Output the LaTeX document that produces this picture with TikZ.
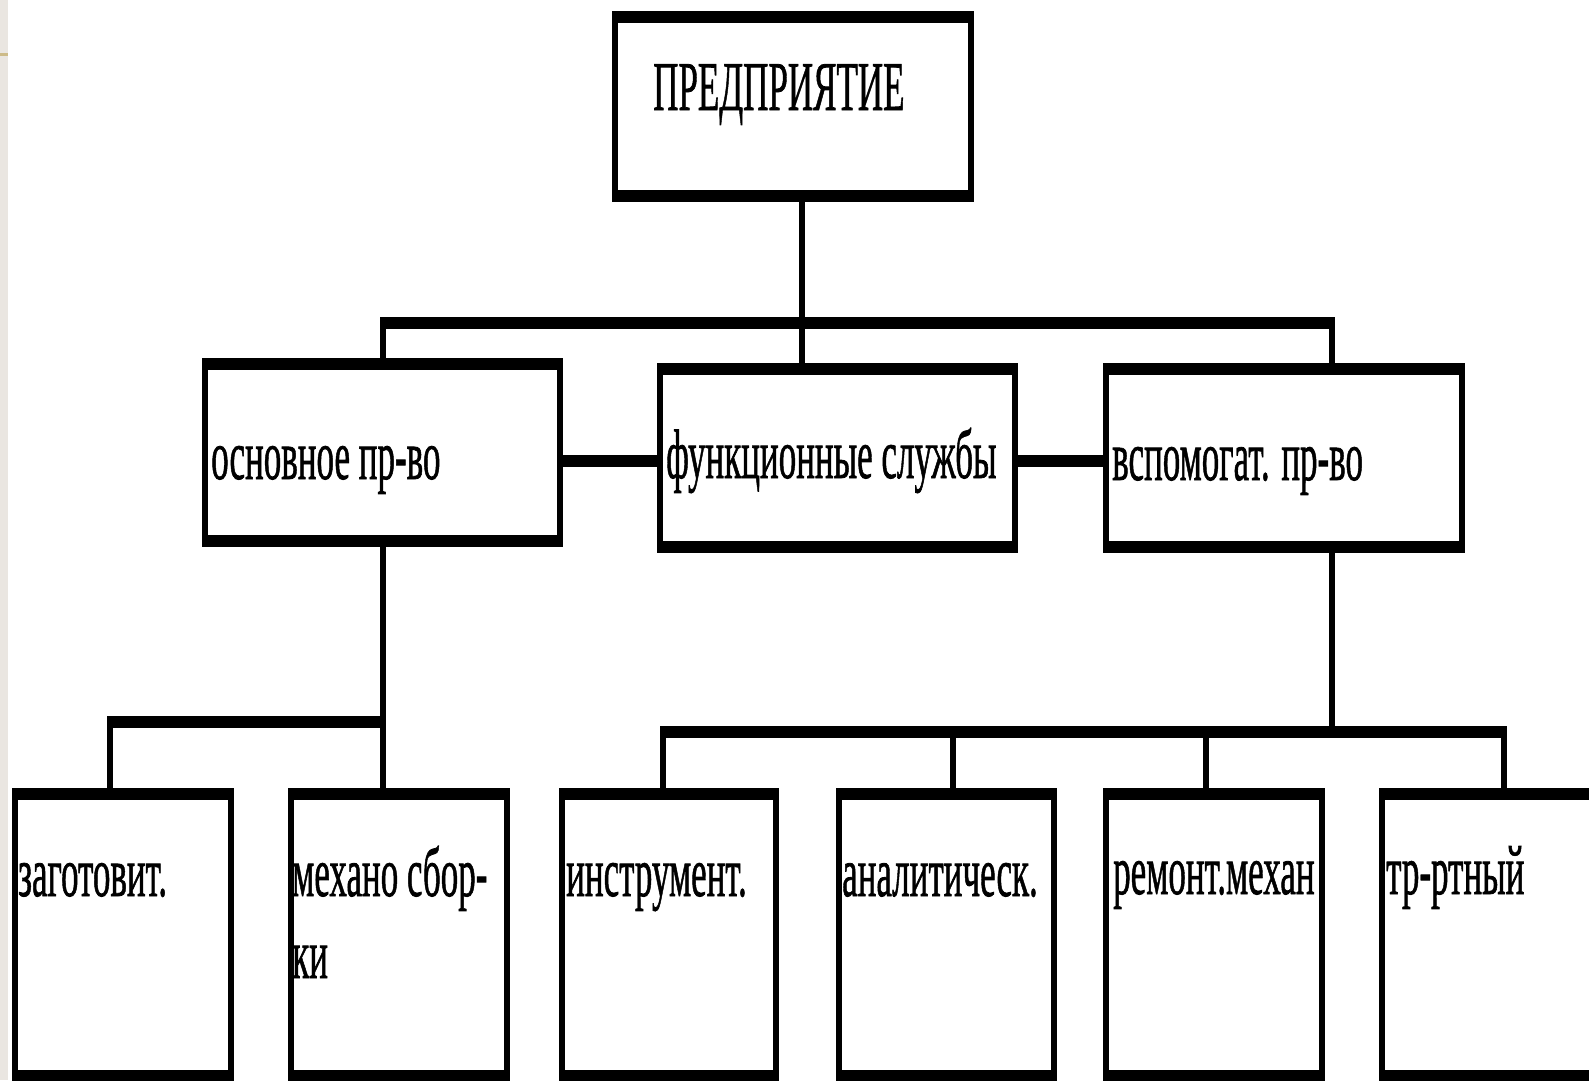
\documentclass[tikz,border=0pt]{standalone}
\usepackage{fontspec}
\setmainfont{Liberation Serif}
\newfontfamily\chartfont[BoldFont={Liberation Serif}, BoldFeatures={FakeBold=1.2}]{Liberation Serif}
\definecolor{stripbg}{HTML}{EAE6E1}
\definecolor{stripmark}{HTML}{CDBB88}
\begin{document}
\begin{tikzpicture}[x=1pt,y=-1pt]
  \useasboundingbox (0,0) rectangle (1589,1080);
  \clip (0,0) rectangle (1589,1080);
  \fill[white] (0,0) rectangle (1589,1080);
  % side strip of the slide
  \fill[stripbg] (0,0) rectangle (8,1080);
  \fill[stripmark] (0,52.5) rectangle (8,55.5);

  % the chart itself is set on a canvas stretched twice in height
  \begin{scope}[transform canvas={yscale=2}, x=1pt, y=-0.5pt,
      unit/.style={draw, line width=6pt, fill=white, inner sep=0pt, outer sep=0pt},
      link/.style={line width=6pt, line join=miter},
      lbl/.style={anchor=base west, inner sep=0pt,
        font=\chartfont\bfseries\fontsize{35}{41}\selectfont}]

    % boxes
    \node[unit, minimum width=356pt, minimum height=89.5pt] (top) at (793,106.5) {};
    \node[unit, minimum width=355pt, minimum height=88.5pt] (osn) at (382.5,452.5) {};
    \node[unit, minimum width=355pt, minimum height=89pt] (fun) at (837.5,458) {};
    \node[unit, minimum width=356pt, minimum height=89pt] (vsp) at (1284,458) {};
    \node[unit, minimum width=215.5pt, minimum height=141pt] (b1) at (122.75,935) {};
    \node[unit, minimum width=216pt, minimum height=141pt] (b2) at (398.5,935) {};
    \node[unit, minimum width=214pt, minimum height=141pt] (b3) at (669,935) {};
    \node[unit, minimum width=214.5pt, minimum height=141pt] (b4) at (946.25,935) {};
    \node[unit, minimum width=216pt, minimum height=141pt] (b5) at (1214,935) {};
    \node[unit, minimum width=268pt, minimum height=141pt] (b6) at (1516,935) {};

    % junction points
    \coordinate (j0) at (802,323);
    \coordinate (jr) at (1332,323);
    \coordinate (lk) at (0,461);
    \coordinate (bl) at (110,722);
    \coordinate (br) at (1332,732);
    \coordinate (d3) at (663,732);
    \coordinate (d4) at (953,732);
    \coordinate (d5) at (1206,732);
    \coordinate (d6) at (1504,732);

    % upper level
    \draw[link] (top.south -| j0) -- (fun.north -| j0);
    \draw[link] (osn.north) |- (jr) -- (vsp.north -| jr);
    \draw[link] (osn.east |- lk) -- (fun.west |- lk);
    \draw[link] (fun.east |- lk) -- (vsp.west |- lk);

    % main production branch
    \draw[link] (osn.south) -- (osn.south |- b2.north);
    \draw[link] (b1.north -| bl) |- (osn.south |- bl);

    % auxiliary production branch
    \draw[link] (vsp.south -| br) -- (br);
    \draw[link] (b3.north -| d3) |- (d6) -- (b6.north -| d6);
    \draw[link] (d4) -- (b4.north -| d4);
    \draw[link] (d5) -- (b5.north -| d5);

    % labels
    \node[lbl] (t-top) at (653,110) {ПРЕДПРИЯТИЕ};
    \node[lbl] (t-osn) at (211,479) {основное пр-во};
    \node[lbl] (t-fun) at (666,478) {функционные службы};
    \node[lbl] (t-vsp) at (1112,480) {вспомогат. пр-во};
    \node[lbl] (t-b1) at (18,896) {заготовит.};
    \node[lbl] (t-b2) at (292,896) {\begin{tabular}[t]{@{}l@{}}механо сбор-\\ки\end{tabular}};
    \node[lbl] (t-b3) at (566,896) {инструмент.};
    \node[lbl] (t-b4) at (842,896) {аналитическ.};
    \node[lbl] (t-b5) at (1113,894) {ремонт.механ};
    \node[lbl] (t-b6) at (1386,894) {тр-ртный};
  \end{scope}
\end{tikzpicture}
\end{document}
